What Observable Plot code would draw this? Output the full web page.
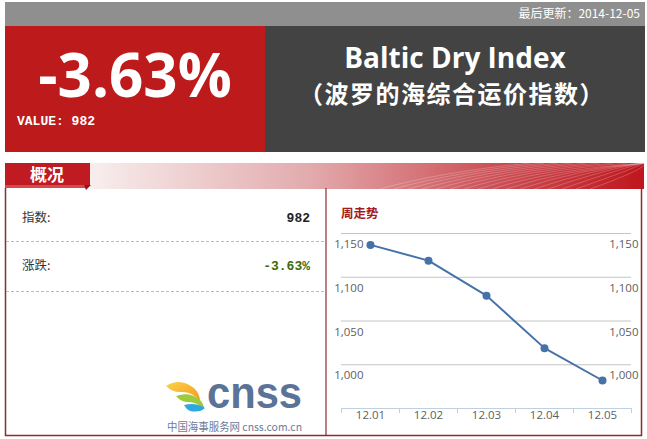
<!DOCTYPE html>
<html>
<head>
<meta charset="utf-8">
<script src="https://cdn.jsdelivr.net/npm/d3@7"></script>
<script src="https://cdn.jsdelivr.net/npm/@observablehq/plot@0.6"></script>
<style>
  html, body { margin: 0; padding: 0; background: #fff; }
  #page { position: relative; width: 647px; height: 439px; overflow: hidden; }
  #deco { position: absolute; left: 0; top: 0; }
  #chart { position: absolute; left: 326px; top: 190px; }
</style>
</head>
<body>
<div id="page">
<svg id="deco" width="647" height="439" xmlns="http://www.w3.org/2000/svg">
  <defs>
    <linearGradient id="hdr" x1="0" x2="1" y1="0" y2="0">
      <stop offset="0" stop-color="#f8eeee"/>
      <stop offset="0.4" stop-color="#e2aaac"/>
      <stop offset="0.72" stop-color="#cc5258"/>
      <stop offset="1" stop-color="#bf161d"/>
    </linearGradient>
    <linearGradient id="sw1" x1="0" x2="1" y1="0" y2="1">
      <stop offset="0" stop-color="#fbd34a"/>
      <stop offset="1" stop-color="#f39a1e"/>
    </linearGradient>
  </defs>
  <!-- top bar -->
  <rect x="5" y="2" width="640" height="24" fill="#8f8f8f"/>
  <text id="upd" x="640" y="18" text-anchor="end" fill="#fff" font-family="'Noto Sans CJK SC', sans-serif" font-size="12"></text>
  <!-- red value box -->
  <rect x="5" y="26" width="260" height="126" fill="#bd1a1b"/>
  <rect x="265" y="26" width="380" height="126" fill="#434343"/>
  <text id="bigpct" x="135" y="97" text-anchor="middle" fill="#fff" font-family="'Open Sans', sans-serif" font-weight="700" font-size="60"></text>
  <text id="valtxt" x="17" y="125" fill="#fff" font-family="'Liberation Mono', monospace" font-weight="700" font-size="13"></text>
  <text id="titleEn" x="455" y="68" text-anchor="middle" fill="#fff" font-family="'Open Sans', sans-serif" font-weight="700" font-size="28"></text>
  <text id="titleZh" x="452" y="103" text-anchor="middle" fill="#fff" font-family="'Noto Sans CJK SC', sans-serif" font-weight="700" font-size="24" letter-spacing="1.5"></text>
  <!-- section header -->
  <rect x="90" y="163" width="554" height="26" fill="url(#hdr)"/>
  <g id="waves" fill="none" stroke="#ffffff" stroke-opacity="0.28" stroke-width="0.8"></g>
  <rect x="5" y="163" width="85" height="22" fill="#c01b22"/>
  <rect x="5" y="185" width="82" height="3" fill="#d9484d"/>
  <path d="M84,185 L91,185 L86,190 Z" fill="#9c1218"/>
  <text id="secTitle" x="47" y="181" text-anchor="middle" fill="#fff" font-family="'Noto Sans CJK SC', sans-serif" font-weight="700" font-size="17"></text>
  <!-- panel borders -->
  <line x1="5.5" y1="188" x2="5.5" y2="436" stroke="#8e2b2b" stroke-width="1.5"/>
  <line x1="641.5" y1="188" x2="641.5" y2="436" stroke="#8e2b2b" stroke-width="1.5"/>
  <line x1="5" y1="435.5" x2="642" y2="435.5" stroke="#8e2b2b" stroke-width="1.5"/>
  <line x1="326" y1="188" x2="326" y2="436" stroke="#8e2b2b" stroke-width="1.2"/>
  <!-- left table -->
  <line x1="6" y1="241.5" x2="325" y2="241.5" stroke="#bbbbbb" stroke-dasharray="3,2"/>
  <line x1="6" y1="291.5" x2="325" y2="291.5" stroke="#bbbbbb" stroke-dasharray="3,2"/>
  <text id="lab1" x="22" y="222" fill="#333" font-family="'Noto Sans CJK SC', sans-serif" font-size="12.5"></text>
  <text id="lab2" x="22" y="270" fill="#333" font-family="'Noto Sans CJK SC', sans-serif" font-size="12.5"></text>
  <text id="val1" x="310" y="222" text-anchor="end" fill="#222" font-family="'Liberation Mono', monospace" font-weight="700" font-size="13"></text>
  <text id="val2" x="310" y="270" text-anchor="end" fill="#3d6a0a" font-family="'Liberation Mono', monospace" font-weight="700" font-size="13"></text>
  <text id="chartTitle" x="341" y="218" fill="#a31a1f" font-family="'Noto Sans CJK SC', sans-serif" font-weight="700" font-size="12.5"></text>
  <!-- logo -->
  <g>
    <path d="M166,386 Q180,377 194,388 Q200,394 200,401 Q192,391 180,392 Q172,392 166,386 Z" fill="url(#sw1)"/>
    <path d="M176,396 Q190,391 200,400 Q204,404 204,409 Q196,401 186,402 Q180,401 176,396 Z" fill="#9ccb3b"/>
    <path d="M184,405 Q196,402 205,408 Q200,413 190,411 Q186,409 184,405 Z" fill="#2fa7df"/>
    <text id="logoMain" x="207" y="408" textLength="95" lengthAdjust="spacingAndGlyphs" fill="#5a7397" font-family="'Liberation Sans', Arial, sans-serif" font-weight="700" font-size="44"></text>
    <text id="logoSub" x="167" y="430.5" textLength="135" lengthAdjust="spacingAndGlyphs" fill="#6b7c9c" font-family="'Noto Sans CJK SC', sans-serif" font-size="11"></text>
  </g>
</svg>
<div id="chart"></div>
</div>
<script>
// ---- data ----
const updateLabel = "最后更新：";
const updateDate = "2014-12-05";
const indexValue = 982;
const changePct = "-3.63%";
const titleEn = "Baltic Dry Index";
const titleZh = "（波罗的海综合运价指数）";
const sectionTitle = "概况";
const rowLabels = ["指数:", "涨跌:"];
const chartTitle = "周走势";
const logoMain = "cnss";
const logoSub = "中国海事服务网 cnss.com.cn";

const dates = ["12.01", "12.02", "12.03", "12.04", "12.05"];
const values = [1137, 1119, 1079, 1019, 982];
const yTicks = [1000, 1050, 1100, 1150];
const yDomain = [950, 1150];

// ---- static texts ----
const setText = (id, t) => { document.getElementById(id).textContent = t; };
setText("upd", updateLabel + updateDate);
setText("bigpct", changePct);
setText("valtxt", "VALUE: " + indexValue);
setText("titleEn", titleEn);
setText("titleZh", titleZh);
setText("secTitle", sectionTitle);
setText("lab1", rowLabels[0]);
setText("lab2", rowLabels[1]);
setText("val1", String(indexValue));
setText("val2", changePct);
setText("chartTitle", chartTitle);
setText("logoMain", logoMain);
setText("logoSub", logoSub);

// decorative wave lines in header
const waves = document.getElementById("waves");
for (let k = 0; k < 16; k++) {
  const p = document.createElementNS("http://www.w3.org/2000/svg", "path");
  const x0 = 380 + k * 14;
  p.setAttribute("d", `M${x0},189 Q${x0 + 60},${172 - k * 0.3} ${Math.min(644, x0 + 150)},163`);
  waves.appendChild(p);
}

// ---- chart ----
const data = dates.map((d, i) => ({date: d, value: values[i]}));
const W = 316, H = 245, mL = 15, mR = 11, mT = 43, mB = 27;
const bw = (W - mL - mR) / dates.length;
const fmt = d3.format(",");

const chart = Plot.plot({
  width: W,
  height: H,
  marginLeft: mL,
  marginRight: mR,
  marginTop: mT,
  marginBottom: mB,
  x: {type: "band", domain: dates, padding: 0, axis: null},
  y: {domain: yDomain, axis: null},
  style: {fontFamily: "'Open Sans', sans-serif", fontSize: "11.5px", color: "#606060", background: "transparent", overflow: "visible"},
  marks: [
    Plot.ruleY(yTicks, {stroke: "#c4c4c4", strokeWidth: 1}),
    Plot.ruleY([yDomain[0]], {stroke: "#c0d0e0", strokeWidth: 1}),
    Plot.ruleX(dates, {x: d => d, dx: -bw / 2, y1: yDomain[0], y2: yDomain[0], insetBottom: -5, stroke: "#c0d0e0"}),
    Plot.ruleX(dates.slice(-1), {x: d => d, dx: bw / 2, y1: yDomain[0], y2: yDomain[0], insetBottom: -5, stroke: "#c0d0e0"}),
    Plot.text(yTicks, {y: d => d, frameAnchor: "left", textAnchor: "end", dx: 22, dy: 11, text: d => fmt(d), fill: "#606060"}),
    Plot.text(yTicks, {y: d => d, frameAnchor: "right", textAnchor: "end", dx: 7, dy: 11, text: d => fmt(d), fill: "#606060"}),
    Plot.text(dates, {x: d => d, frameAnchor: "bottom", dy: 10, text: d => d, fill: "#606060"}),
    Plot.line(data, {x: "date", y: "value", stroke: "#4572a7", strokeWidth: 2}),
    Plot.dot(data, {x: "date", y: "value", r: 4, fill: "#4572a7", stroke: "none"})
  ]
});
document.getElementById("chart").appendChild(chart);
</script>
</body>
</html>
